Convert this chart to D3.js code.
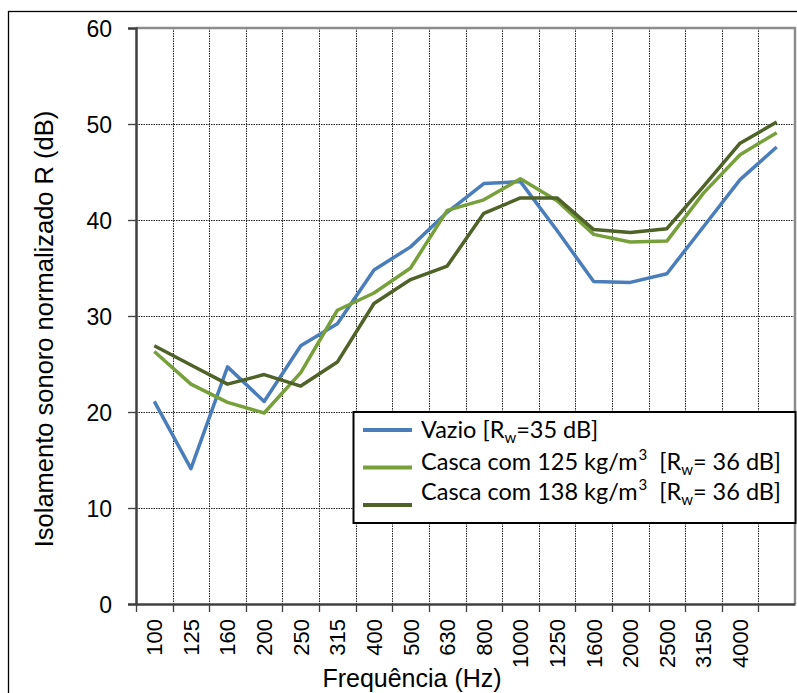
<!DOCTYPE html>
<html>
<head>
<meta charset="utf-8">
<script src="https://cdn.jsdelivr.net/npm/d3@7"></script>
<style>
  body { margin: 0; background: #fff; }
  svg { display: block; }
  .tick text { font-family: "Liberation Sans", Arial, sans-serif; fill: #000; }
</style>
</head>
<body>
<svg id="chart" width="797" height="693"></svg>
<script>
// frequency bands (last band has no label in the original)
const freqs = ["100", "125", "160", "200", "250", "315", "400", "500", "630", "800",
    "1000", "1250", "1600", "2000", "2500", "3150", "4000", "5000"];
const tickLabels = ["100", "125", "160", "200", "250", "315", "400", "500", "630", "800",
    "1000", "1250", "1600", "2000", "2500", "3150", "4000", ""];
const yTicks = [0, 10, 20, 30, 40, 50, 60];

const vazio = [21.1, 14.1, 24.7, 21.1, 26.9, 29.2, 34.8, 37.2, 40.8, 43.8,
    44.0, 38.9, 33.6, 33.5, 34.4, 39.3, 44.2, 47.6];
const casca125 = [26.3, 22.9, 21.0, 19.9, 24.1, 30.6, 32.4, 35.0, 41.0, 42.1,
    44.3, 42.0, 38.5, 37.7, 37.8, 42.8, 46.8, 49.1];
const casca138 = [26.9, 24.9, 22.9, 23.9, 22.7, 25.2, 31.3, 33.8, 35.2, 40.7,
    42.3, 42.3, 39.0, 38.7, 39.1, 43.5, 48.0, 50.2];

const seriesNames = ["Vazio", "Casca com 125 kg/m", "Casca com 138 kg/m"];
const seriesColors = ["#4a7ebb", "#77a03a", "#4f6228"];

const series = [
    {name: seriesNames[0], values: vazio, color: seriesColors[0], rw: "=35 dB]", sup: false},
    {name: seriesNames[1], values: casca125, color: seriesColors[1], rw: "= 36 dB]", sup: true},
    {name: seriesNames[2], values: casca138, color: seriesColors[2], rw: "= 36 dB]", sup: true}
];

const svg = d3.select("#chart");
const pLeft = 136, pRight = 795, pTop = 28, pBottom = 604;

// outer chart frame
svg.append("rect")
    .attr("x", 8.5).attr("y", 11.5)
    .attr("width", 800).attr("height", 700)
    .attr("fill", "none").attr("stroke", "#000").attr("stroke-width", 1.3);

const x = d3.scaleBand().domain(freqs).range([pLeft, pRight]);
const y = d3.scaleLinear().domain([0, 60]).range([pBottom, pTop]);

// grid
const grid = svg.append("g").attr("class", "grid");
grid.selectAll("line.h")
    .data(yTicks.filter(d => d > 0 && d < 60))
    .join("line").attr("class", "h")
    .attr("x1", pLeft).attr("x2", pRight)
    .attr("y1", d => y(d) + 0.5).attr("y2", d => y(d) + 0.5)
    .attr("stroke", "#222").attr("stroke-width", 1).attr("stroke-dasharray", "1.5,1");
grid.selectAll("line.v")
    .data(freqs.slice(1))
    .join("line").attr("class", "v")
    .attr("x1", d => Math.round(x(d)) + 0.5).attr("x2", d => Math.round(x(d)) + 0.5)
    .attr("y1", pTop).attr("y2", pBottom)
    .attr("stroke", "#222").attr("stroke-width", 1).attr("stroke-dasharray", "1.5,1");

// plot border top and right (grey)
svg.append("path")
    .attr("d", `M${pLeft},${pTop} H${pRight} V${pBottom}`)
    .attr("fill", "none").attr("stroke", "#8c8c8c").attr("stroke-width", 2.5);

// y axis
const yAxis = svg.append("g")
    .attr("transform", `translate(${pLeft},0)`)
    .call(d3.axisLeft(y).tickValues(yTicks).tickSize(8).tickPadding(16));
yAxis.select(".domain").attr("stroke", "#404040").attr("stroke-width", 2.5);
yAxis.selectAll(".tick line").attr("stroke", "#404040").attr("stroke-width", 1.3);
yAxis.selectAll(".tick text").attr("font-size", 23).attr("dy", "0.36em");

// x axis
const xAxis = svg.append("g")
    .attr("transform", `translate(0,${pBottom})`)
    .call(d3.axisBottom(x).tickSize(0).tickFormat((d, i) => tickLabels[i]));
xAxis.select(".domain").attr("stroke", "#404040").attr("stroke-width", 2.5);
xAxis.selectAll(".tick text")
    .attr("font-size", 22)
    .attr("text-anchor", "end")
    .attr("transform", "rotate(-90)")
    .attr("x", -15).attr("y", 0).attr("dy", "0.36em");
// x tick marks at band edges
xAxis.selectAll("line.edge")
    .data(freqs)
    .join("line").attr("class", "edge")
    .attr("x1", d => Math.round(x(d)) + 0.5).attr("x2", d => Math.round(x(d)) + 0.5)
    .attr("y1", 0).attr("y2", 8)
    .attr("stroke", "#404040").attr("stroke-width", 1.3);

// lines
const line = d3.line()
    .x((d, i) => x(freqs[i]) + x.bandwidth() / 2)
    .y(d => y(d));
svg.append("g").selectAll("path")
    .data(series)
    .join("path")
    .attr("d", d => line(d.values))
    .attr("fill", "none")
    .attr("stroke", d => d.color)
    .attr("stroke-width", 3.5)
    .attr("stroke-linejoin", "round");

// axis titles
svg.append("text")
    .attr("transform", "translate(53,329) rotate(-90)")
    .attr("text-anchor", "middle")
    .attr("font-family", "'Liberation Sans', Arial, sans-serif")
    .attr("font-size", 25.5)
    .text("Isolamento sonoro normalizado R (dB)");
svg.append("text")
    .attr("x", 412).attr("y", 687)
    .attr("text-anchor", "middle")
    .attr("font-family", "'Liberation Sans', Arial, sans-serif")
    .attr("font-size", 25)
    .text("Frequência (Hz)");

// legend
const legend = svg.append("g");
legend.append("rect")
    .attr("x", 353.5).attr("y", 412)
    .attr("width", 442).attr("height", 111)
    .attr("fill", "#fff").attr("stroke", "#000").attr("stroke-width", 2);
const lineYs = [430, 467.5, 505];
const textYs = [438, 470, 500];
const items = legend.selectAll("g.item").data(series).join("g").attr("class", "item");
items.append("line")
    .attr("x1", 363).attr("x2", 412)
    .attr("y1", (d, i) => lineYs[i]).attr("y2", (d, i) => lineYs[i])
    .attr("stroke", d => d.color).attr("stroke-width", 4);
const txt = items.append("text")
    .attr("x", 421).attr("y", (d, i) => textYs[i])
    .attr("font-family", "Lato, 'Open Sans', sans-serif")
    .attr("font-size", 23.5);
txt.each(function (d) {
    const t = d3.select(this);
    t.append("tspan").text(d.name);
    if (d.sup) {
        t.append("tspan").attr("font-size", 15).attr("dy", -10).attr("dx", 1).text("3");
        t.append("tspan").attr("dy", 10).attr("dx", 6).text(" [R");
    } else {
        t.append("tspan").text(" [R");
    }
    t.append("tspan").attr("font-size", 15).attr("dy", 5).text("w");
    t.append("tspan").attr("dy", -5).text(d.rw);
});
</script>
</body>
</html>
